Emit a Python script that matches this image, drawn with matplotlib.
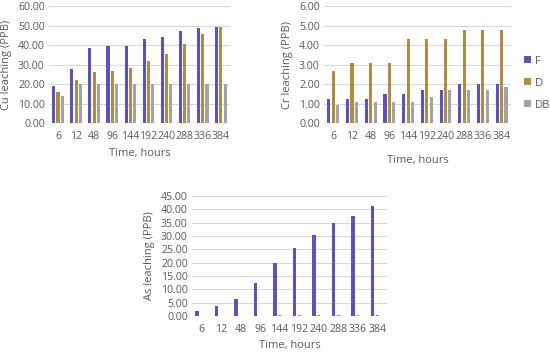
import numpy as np
import matplotlib.pyplot as plt

plt.rcParams['font.family'] = ['Open Sans', 'DejaVu Sans']

hours = ['6', '12', '48', '96', '144', '192', '240', '288', '336', '384']
series = ['F', 'D', 'DB']
colors = ['#5a52c2', '#b08d3a', '#a3a3a3']

cu_f = [19.0, 27.5, 38.5, 39.5, 39.5, 43.0, 44.0, 47.0, 48.5, 49.0]
cu_d = [16.0, 22.0, 26.0, 26.5, 28.0, 32.0, 35.5, 40.5, 45.5, 49.0]
cu_db = [14.0, 20.0, 20.0, 20.0, 20.0, 20.0, 20.0, 20.0, 20.0, 20.0]

cr_f = [1.25, 1.25, 1.25, 1.5, 1.5, 1.67, 1.67, 2.0, 2.0, 2.0]
cr_d = [2.67, 3.1, 3.1, 3.1, 4.3, 4.33, 4.33, 4.78, 4.78, 4.78]
cr_db = [0.9, 1.1, 1.1, 1.1, 1.1, 1.33, 1.7, 1.7, 1.7, 1.83]

as_f = [1.8, 3.7, 6.3, 12.2, 20.0, 25.5, 30.4, 34.7, 37.5, 41.2]
as_d = [0.15, 0.15, 0.15, 0.15, 0.2, 0.2, 0.2, 0.2, 0.2, 0.2]
as_db = [0.1, 0.1, 0.1, 0.1, 0.1, 0.1, 0.1, 0.1, 0.1, 0.1]

txt = '#595959'
fs = 7.6


def bar_panel(ax, data, ymax, step, ylabel, xpad):
    x = np.arange(len(hours))
    w = 0.17
    bars = []
    for k, vals in enumerate(data):
        b = ax.bar(x + (k - 1) * 0.235, vals, w, color=colors[k], label=series[k], zorder=3)
        bars.append(b)
    ax.set_xlim(-0.5, len(hours) - 0.5)
    ax.set_ylim(0, ymax)
    ax.set_yticks(np.arange(0, ymax + step / 2, step))
    ax.set_yticklabels(['%.2f' % v for v in np.arange(0, ymax + step / 2, step)])
    ax.set_xticks(x)
    ax.set_xticklabels(hours)
    ax.tick_params(length=0, labelsize=fs, colors=txt, pad=3)
    ax.tick_params(axis='x', pad=6)
    ax.grid(axis='y', color='#d9d9d9', linewidth=0.8, zorder=0)
    for s in ax.spines.values():
        s.set_visible(False)
    ax.set_ylabel(ylabel, fontsize=fs + 0.4, color=txt, labelpad=4)
    ax.set_xlabel('Time, hours', fontsize=fs + 0.4, color=txt, labelpad=xpad)
    return bars


fig = plt.figure(figsize=(5.5, 3.54), dpi=100)

ax1 = fig.add_axes([0.089, 0.6525, 0.329, 0.3305])
bar_panel(ax1, [cu_f, cu_d, cu_db], 60, 10, 'Cu leaching (PPB)', 4)

ax2 = fig.add_axes([0.589, 0.6525, 0.340, 0.3305])
bars = bar_panel(ax2, [cr_f, cr_d, cr_db], 6, 1, 'Cr leaching (PPB)', 9)

ax3 = fig.add_axes([0.349, 0.1073, 0.3545, 0.339])
bar_panel(ax3, [as_f, as_d, as_db], 45, 5, 'As leaching (PPB)', 3)

fig.legend(handles=bars, labels=series, loc='center left',
           bbox_to_anchor=(0.953, 0.765), frameon=False, fontsize=fs + 0.4,
           handlelength=0.6, handleheight=0.6, handletextpad=0.4,
           labelspacing=1.0, labelcolor=txt, borderaxespad=0, borderpad=0)

plt.savefig('out.png', dpi=100)
